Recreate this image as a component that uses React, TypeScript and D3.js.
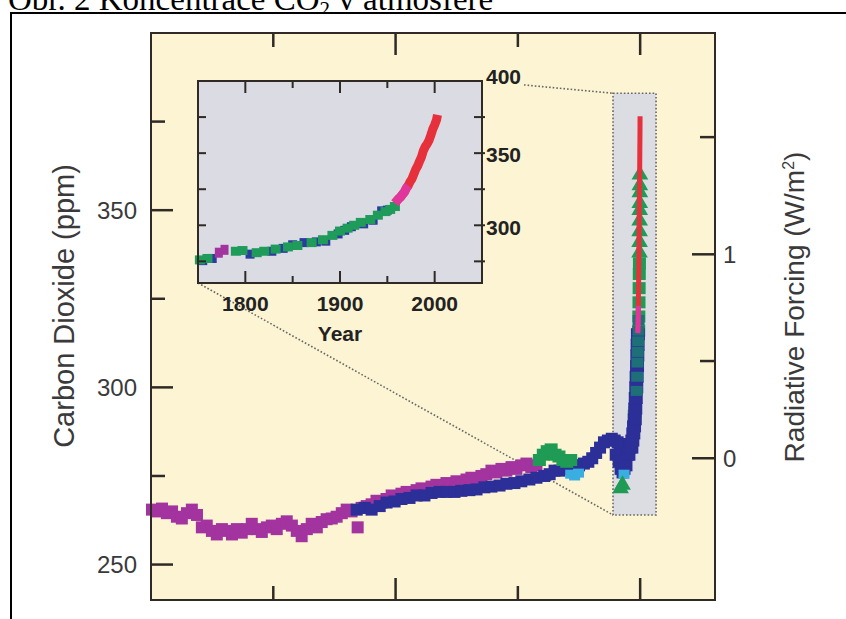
import React from "react";
import * as d3 from "d3";

// main panel: [years before 2005, CO2 ppm]
const purpleCore: [number, number][] = [
  [9980, 265.5], [9880, 265], [9775, 265.8], [9675, 264.5], [9570, 265], [9470, 263.5], [9370, 263],
  [9265, 264.5], [9165, 265.5], [9060, 264], [8960, 260.5], [8860, 261], [8755, 259.5], [8655, 258.5],
  [8550, 260], [8450, 259.5], [8345, 258.5], [8245, 260], [8145, 259], [8040, 260], [7940, 261.5],
  [7835, 260], [7735, 259.2], [7630, 260.5], [7530, 261], [7430, 260], [7325, 261.5], [7225, 262.2],
  [7120, 261], [7020, 259.5], [6920, 258], [6815, 260], [6715, 261.5], [6610, 260.5], [6510, 262],
  [6410, 262.8], [6305, 263], [6205, 263.5], [6100, 264.5], [6000, 265.5], [5900, 265], [5775, 260.5],
  [5695, 266], [5590, 266.5], [5490, 267], [5390, 268], [5285, 267.5], [5185, 268.5], [5080, 269.5],
  [4980, 269], [4880, 270], [4775, 270.5], [4675, 270], [4570, 271], [4470, 271.5], [4365, 271],
  [4265, 272], [4165, 272.5], [4060, 272], [3960, 273], [3855, 272.5], [3755, 273.5], [3655, 273],
  [3550, 274], [3450, 274.5], [3345, 274], [3245, 275], [3145, 275.5], [3040, 276.5], [2940, 276],
  [2835, 277], [2735, 276.5], [2630, 277.5], [2530, 277], [2430, 278], [2325, 278.5], [2225, 277.5],
  [2120, 278],
];
const blueCore: [number, number][] = [
  [5795, 265.5], [5630, 266], [5490, 265.5], [5325, 266.5], [5185, 267.5], [5020, 267.8], [4880, 268.5],
  [4715, 268.8], [4570, 269.5], [4410, 269.5], [4265, 270.2], [4100, 270.5], [3960, 270.5], [3795, 270.5],
  [3655, 270.8], [3490, 271], [3345, 271.2], [3185, 271.8], [3040, 272], [2875, 272.3], [2735, 272.8],
  [2570, 273], [2430, 273.5], [2265, 274], [2120, 274.5], [1960, 275], [1850, 275.5], [1750, 276.5],
  [1650, 276.5], [1550, 277], [1450, 277.5], [1345, 278], [1250, 278], [1150, 278.5], [1060, 279],
  [980, 280], [900, 281.5], [820, 283], [740, 284.5], [660, 285], [580, 285.5], [520, 285], [460, 284.5],
  [420, 284], [380, 283], [340, 284], [300, 283], [270, 282], [250, 281], [500, 281], [440, 279],
  [400, 277], [360, 276], [320, 277], [280, 278],
];
const greenCore: [number, number][] = [
  [2060, 279.5], [1980, 281], [1900, 282], [1820, 282.5], [1740, 281], [1660, 280.5], [1580, 279.5],
  [1500, 279], [1420, 279.5], [120, 292], [105, 293], [30, 316], [27, 320], [24, 324], [21, 328],
  [18, 332], [15, 335],
];
const cyanCore: [number, number][] = [[1420, 275.5], [1340, 275], [1260, 275.8], [330, 275.5]];
const blueSpike: [number, number][] = [
  [240, 281], [220, 283], [200, 284], [180, 283], [160, 285], [140, 287], [125, 289], [110, 291],
  [100, 294], [90, 297], [80, 300], [72, 303], [64, 306], [58, 309], [52, 312], [46, 315],
];
const tealSpike: [number, number][] = [[70, 299], [60, 303], [54, 307], [48, 310], [42, 313], [36, 316], [32, 319]];
const greenTriangles: [number, number][] = [
  [400, 271.5], [360, 272.5], [13, 338], [12, 341], [11, 344], [10, 347], [9, 350], [8, 352], [7, 355],
  [6, 357], [5, 360],
];

// Mauna Loa record (year AD, ppm)
const maunaLoaYears = [1958, 1960, 1962, 1964, 1966, 1968, 1970, 1972, 1974, 1976, 1978, 1980, 1982, 1984,
  1986, 1988, 1990, 1992, 1994, 1996, 1998, 2000, 2002, 2003];
const maunaLoaCO2 = [315.3, 316.9, 318.4, 319.6, 321.4, 323.0, 325.7, 327.5, 330.2, 332.1, 335.4, 338.7,
  341.1, 344.4, 347.2, 351.6, 354.4, 356.4, 358.8, 362.6, 366.7, 369.6, 373.2, 376.5];

// inset: [year AD, ppm]
const insetGreen: [number, number][] = [
  [1752, 276], [1760, 277], [1790, 282], [1797, 282.5], [1812, 281], [1820, 282], [1832, 283.5],
  [1845, 285], [1855, 286], [1870, 288], [1882, 290], [1892, 293], [1900, 296], [1908, 298],
  [1915, 300], [1922, 302], [1932, 304], [1940, 307], [1948, 309.5], [1953, 311], [1958, 313],
];
const insetBlue: [number, number][] = [
  [1755, 275.5], [1765, 277], [1805, 280], [1828, 282], [1840, 284], [1850, 286.5], [1862, 288],
  [1875, 288.5], [1885, 289], [1898, 294], [1905, 296.5], [1912, 299], [1925, 301], [1935, 303.5],
  [1944, 310], [1950, 310.5],
];
const insetPurple: [number, number][] = [[1772, 281], [1778, 283]];

const co2Ticks = [250, 275, 300, 325, 350, 375];
const co2Labels = [250, 300, 350];
const rfTicks = [0, 0.5, 1, 1.5];
const rfLabels = [0, 1];
const ageTicks = [7500, 5000, 2500, 0];
const ageMajor = [5000, 0];
const insetYearTicks = [1800, 1850, 1900, 1950, 2000];
const insetYearLabels = [1800, 1900, 2000];
const insetCo2Ticks = [275, 300, 325, 350, 375];
const insetCo2Labels = [300, 350, 400];

// zoom box in data terms (age, ppm)
const boxAge = [555, -325];
const boxCO2 = [264, 383];

const sans = "'Liberation Sans', Arial, Helvetica, sans-serif";
const axisColor = "#2f2a26";

export default function App() {
  const m = { left: 151, right: 715, top: 33, bottom: 600 };
  const x = d3.scaleLinear().domain([10000, -1530]).range([m.left, m.right]);
  const y = d3.scaleLinear().domain([240, 400]).range([m.bottom, m.top]);
  const yRF = (rf: number) => y(280 * Math.exp(rf / 5.35));

  const ins = { left: 198, right: 482, top: 81, bottom: 283 };
  const xi = d3.scaleLinear().domain([1750, 2050]).range([ins.left, ins.right]);
  const yi = d3.scaleLinear().domain([260, 400]).range([ins.bottom, ins.top]);

  const boxes = (pts: [number, number][], sx: any, sy: any, w: number, h: number, color: string, key: string) =>
    pts.map(([a, b], i) => (
      <rect key={key + i} x={sx(a) - w / 2} y={sy(b) - h / 2} width={w} height={h} fill={color} />
    ));
  const tri = d3.symbol().type(d3.symbolTriangle).size(120)() as string;

  const mlMain = maunaLoaYears.map((yr, i) => [2005 - yr, maunaLoaCO2[i]] as [number, number]);
  const mlInset = maunaLoaYears.map((yr, i) => [yr, maunaLoaCO2[i]] as [number, number]);
  const lineMain = d3.line<[number, number]>().x((d) => x(d[0])).y((d) => y(d[1]));
  const lineInset = d3.line<[number, number]>().x((d) => xi(d[0])).y((d) => yi(d[1]));

  const bx0 = x(boxAge[0]), bx1 = x(boxAge[1]);
  const by0 = y(boxCO2[1]), by1 = y(boxCO2[0]);
  // upper connector starts right of the "400" label
  const ux = 524;
  const uy = ins.top + ((by0 - ins.top) * (ux - ins.right)) / (bx0 - ins.right);

  return (
    <div style={{ position: "absolute", left: 0, top: 0 }}>
      <svg width={846} height={619} style={{ display: "block", background: "#fff" }}>
        <text x={8} y={9.5} fontFamily="'Liberation Serif', 'Times New Roman', serif" fontSize={33} fill="#000">
          Obr. 2 Koncentrace CO<tspan dy={6} fontSize={21}>2</tspan>
          <tspan dy={-6}> v atmosféře</tspan>
        </text>
        <rect x={11} y={13} width={900} height={700} fill="#fff" stroke="#000" strokeWidth={2} />

        {/* main plot */}
        <rect x={m.left} y={m.top} width={m.right - m.left} height={m.bottom - m.top} fill="#fcf4d3" />
        <rect x={bx0} y={by0} width={bx1 - bx0} height={by1 - by0} fill="#dcdce3" stroke="#666" strokeWidth={1.6} strokeDasharray="1.6 2" />
        <line x1={ins.left} y1={ins.bottom} x2={bx0} y2={by1} stroke="#666" strokeWidth={1.6} strokeDasharray="1.6 2" />
        <line x1={ux} y1={uy} x2={bx0} y2={by0} stroke="#666" strokeWidth={1.6} strokeDasharray="1.6 2" />

        {boxes(purpleCore, x, y, 12, 12, "#a2339f", "p")}
        {boxes(blueCore, x, y, 12, 12, "#2d2f98", "b")}
        {boxes(cyanCore, x, y, 11, 9, "#3aaee0", "c")}
        {boxes(greenCore, x, y, 13, 12, "#1f9b55", "g")}
        {boxes(blueSpike, x, y, 14, 12, "#2d2f98", "bs")}
        {boxes(tealSpike, x, y, 12, 10, "#1d6f78", "ts")}
        {greenTriangles.map(([a, b], i) => (
          <path key={"gt" + i} d={tri} transform={`translate(${x(a)},${y(b)})`} fill="#1f9b55" />
        ))}
        <path d={lineMain(mlMain) || ""} fill="none" stroke="#e6313c" strokeWidth={5} />
        <path d={lineMain(mlMain.slice(0, 6)) || ""} fill="none" stroke="#e0369b" strokeWidth={5} />

        {/* main axes */}
        <rect x={m.left} y={m.top} width={m.right - m.left} height={m.bottom - m.top} fill="none" stroke={axisColor} strokeWidth={2} />
        {co2Ticks.map((v) => {
          const len = co2Labels.includes(v) ? 22 : 14;
          return <line key={"lt" + v} x1={m.left} x2={m.left + len} y1={y(v)} y2={y(v)} stroke={axisColor} strokeWidth={2.5} />;
        })}
        {co2Labels.map((v) => (
          <text key={"ll" + v} x={137} y={y(v)} dy="0.35em" textAnchor="end" fontFamily={sans} fontSize={24} fill="#3a3a3a">{v}</text>
        ))}
        {rfTicks.map((v) => {
          const len = rfLabels.includes(v) ? 23 : 15;
          return <line key={"rt" + v} x1={m.right} x2={m.right - len} y1={yRF(v)} y2={yRF(v)} stroke={axisColor} strokeWidth={2.5} />;
        })}
        {rfLabels.map((v) => (
          <text key={"rl" + v} x={723} y={yRF(v)} dy="0.35em" fontFamily={sans} fontSize={24} fill="#3a3a3a">{v}</text>
        ))}
        {ageTicks.map((v) => {
          const len = ageMajor.includes(v) ? 22 : 14;
          return (
            <g key={"at" + v}>
              <line x1={x(v)} x2={x(v)} y1={m.top} y2={m.top + len} stroke={axisColor} strokeWidth={2.5} />
              <line x1={x(v)} x2={x(v)} y1={m.bottom} y2={m.bottom - len} stroke={axisColor} strokeWidth={2.5} />
            </g>
          );
        })}
        <text transform={`translate(64,306) rotate(-90)`} textAnchor="middle" dy="0.35em" fontFamily={sans} fontSize={29} fill="#3a3a3a">
          Carbon Dioxide (ppm)
        </text>
        <text transform={`translate(794,307) rotate(-90)`} textAnchor="middle" dy="0.35em" fontFamily={sans} fontSize={28} fill="#3a3a3a">
          Radiative Forcing (W/m<tspan dy={-10} fontSize={16}>2</tspan><tspan dy={10}>)</tspan>
        </text>

        {/* inset */}
        <rect x={ins.left} y={ins.top} width={ins.right - ins.left} height={ins.bottom - ins.top} fill="#dadbe3" />
        {boxes(insetBlue, xi, yi, 9, 9, "#2d3a9e", "ib")}
        {boxes(insetGreen, xi, yi, 10, 9, "#1f9b5a", "ig")}
        {boxes(insetPurple, xi, yi, 8, 10, "#a2339f", "ip")}
        <path d={lineInset(mlInset) || ""} fill="none" stroke="#e6313c" strokeWidth={9} />
        <path d={lineInset(mlInset.slice(0, 8)) || ""} fill="none" stroke="#e0369b" strokeWidth={9} />
        <rect x={ins.left} y={ins.top} width={ins.right - ins.left} height={ins.bottom - ins.top} fill="none" stroke={axisColor} strokeWidth={2} />
        {insetYearTicks.map((v) => {
          const len = insetYearLabels.includes(v) ? 12 : 7;
          return (
            <g key={"it" + v}>
              <line x1={xi(v)} x2={xi(v)} y1={ins.top} y2={ins.top + len} stroke={axisColor} strokeWidth={2} />
              <line x1={xi(v)} x2={xi(v)} y1={ins.bottom} y2={ins.bottom - len} stroke={axisColor} strokeWidth={2} />
            </g>
          );
        })}
        {insetCo2Ticks.map((v) => (
          <g key={"iy" + v}>
            <line x1={ins.left} x2={ins.left + 8} y1={yi(v)} y2={yi(v)} stroke={axisColor} strokeWidth={2} />
            <line x1={ins.right - 8} x2={ins.right + 3} y1={yi(v)} y2={yi(v)} stroke={axisColor} strokeWidth={2} />
          </g>
        ))}
        {insetYearLabels.map((v) => (
          <text key={"ix" + v} x={xi(v)} y={ins.bottom + 28} textAnchor="middle" fontFamily={sans} fontWeight="bold" fontSize={21} fill="#222">{v}</text>
        ))}
        <text x={xi(1900)} y={ins.bottom + 58} textAnchor="middle" fontFamily={sans} fontWeight="bold" fontSize={21} fill="#222">Year</text>
        {insetCo2Labels.map((v) => (
          <text key={"il" + v} x={486} y={v === 400 ? yi(v) - 4 : yi(v) + 2} dy="0.35em" fontFamily={sans} fontWeight="bold" fontSize={21} fill="#222">{v}</text>
        ))}
      </svg>
    </div>
  );
}
